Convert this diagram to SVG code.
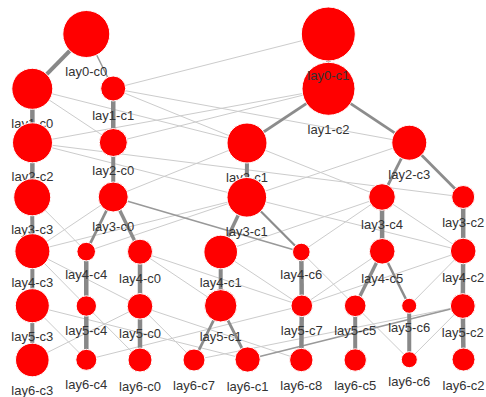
<svg xmlns="http://www.w3.org/2000/svg" width="486" height="397" viewBox="0 0 486 397">
<style>
.n circle{fill:#ff0000;stroke:#ffffff;stroke-width:1}
.n text{font-family:"Liberation Sans",Arial,sans-serif;font-size:13px;fill:#333;text-anchor:middle}
.t{stroke:#cccccc;stroke-width:1;fill:none}
.d{stroke:#999999;stroke-width:1.5;fill:none}
.m{stroke:#8c8c8c;stroke-width:2.8;fill:none}
.k{stroke:#888888;stroke-width:4.5;fill:none}
</style>
<rect width="486" height="397" fill="#ffffff"/>
<g id="connectors">
<!-- thin light -->
<line class="t" x1="113.2" y1="88.5" x2="328.3" y2="34"/>
<line class="t" x1="32.3" y1="88.8" x2="113.3" y2="142.5"/>
<line class="t" x1="32.3" y1="88.8" x2="247" y2="143"/>
<line class="t" x1="113.2" y1="88.5" x2="247" y2="143"/>
<line class="t" x1="113.2" y1="88.5" x2="409.3" y2="142.7"/>
<line class="t" x1="113.3" y1="142.5" x2="328.5" y2="88.8"/>
<line class="t" x1="32.5" y1="142.8" x2="328.5" y2="88.8"/>
<line class="t" x1="32.5" y1="142.8" x2="246.8" y2="197.3"/>
<line class="t" x1="32.5" y1="142.8" x2="463.2" y2="197"/>
<line class="t" x1="113.2" y1="197" x2="247" y2="143"/>
<line class="t" x1="246.8" y1="197.3" x2="409.3" y2="142.7"/>
<line class="t" x1="247" y1="143" x2="382" y2="197"/>
<line class="t" x1="32.2" y1="197.3" x2="86.2" y2="251.6"/>
<line class="t" x1="32.4" y1="251.2" x2="113.2" y2="197"/>
<line class="t" x1="32.4" y1="251.2" x2="246.8" y2="197.3"/>
<line class="t" x1="86.2" y1="251.6" x2="246.8" y2="197.3"/>
<line class="t" x1="246.8" y1="197.3" x2="463.2" y2="251"/>
<line class="t" x1="382" y1="197" x2="220.7" y2="252"/>
<line class="t" x1="382" y1="197" x2="301.3" y2="252"/>
<line class="t" x1="382" y1="197" x2="463.2" y2="251"/>
<line class="t" x1="32.4" y1="251.2" x2="86.3" y2="306"/>
<line class="t" x1="32.4" y1="251.2" x2="140" y2="306.3"/>
<line class="t" x1="140" y1="251.7" x2="301.8" y2="305.8"/>
<line class="t" x1="140" y1="251.7" x2="220.7" y2="305.8"/>
<line class="t" x1="220.7" y1="252" x2="301.8" y2="305.8"/>
<line class="t" x1="301.3" y1="252" x2="355.2" y2="305.8"/>
<line class="t" x1="301.8" y1="305.8" x2="382.2" y2="251.3"/>
<line class="t" x1="463.2" y1="251" x2="409.2" y2="305.8"/>
<line class="t" x1="301.8" y1="305.8" x2="463.2" y2="251"/>
<line class="t" x1="32.3" y1="305.7" x2="247.6" y2="359.5"/>
<line class="t" x1="32.3" y1="305.7" x2="86.3" y2="359.8"/>
<line class="t" x1="86.3" y1="306" x2="140" y2="360"/>
<line class="t" x1="140" y1="306.3" x2="301.3" y2="360"/>
<line class="t" x1="32.3" y1="360" x2="140" y2="306.3"/>
<line class="t" x1="86.3" y1="359.8" x2="301.8" y2="305.8"/>
<line class="t" x1="140" y1="306.3" x2="194" y2="360"/>
<line class="t" x1="462.8" y1="306" x2="194" y2="360"/>
<line class="t" x1="355.2" y1="305.8" x2="409.3" y2="359.7"/>
<line class="t" x1="462.8" y1="306" x2="409.3" y2="359.7"/>
<!-- thin dark -->
<line class="d" x1="86.3" y1="34" x2="113.2" y2="88.5"/>
<line class="d" x1="113.2" y1="197" x2="301.3" y2="252"/>
<line class="d" x1="247.6" y1="359.5" x2="462.8" y2="306"/>
<!-- medium -->
<line class="m" x1="328.5" y1="88.8" x2="247" y2="143"/>
<line class="m" x1="328.5" y1="88.8" x2="409.3" y2="142.7"/>
<line class="m" x1="409.3" y1="142.7" x2="382" y2="197"/>
<line class="m" x1="409.3" y1="142.7" x2="463.2" y2="197"/>
<line class="m" x1="113.2" y1="197" x2="86.2" y2="251.6"/>
<line class="m" x1="113.2" y1="197" x2="140" y2="251.7" style="stroke-width:3.5"/>
<line class="m" x1="246.8" y1="197.3" x2="220.7" y2="252" style="stroke-width:3.5"/>
<line class="m" x1="246.8" y1="197.3" x2="301.3" y2="252" style="stroke-width:2.2"/>
<line class="m" x1="382.2" y1="251.3" x2="355.2" y2="305.8" style="stroke-width:3.5"/>
<line class="m" x1="382.2" y1="251.3" x2="409.2" y2="305.8" style="stroke-width:2.5"/>
<line class="m" x1="220.7" y1="305.8" x2="194" y2="360"/>
<line class="m" x1="220.7" y1="305.8" x2="247.6" y2="359.5"/>
<!-- thick -->
<line class="k" x1="86.3" y1="34" x2="32.3" y2="88.8" style="stroke-width:4"/>
<line class="k" x1="328.3" y1="34" x2="328.5" y2="88.8"/>
<line class="k" x1="32.3" y1="88.8" x2="32.5" y2="142.8"/>
<line class="k" x1="113.2" y1="88.5" x2="113.3" y2="142.5"/>
<line class="k" x1="32.5" y1="142.8" x2="32.2" y2="197.3"/>
<line class="k" x1="113.3" y1="142.5" x2="113.2" y2="197" style="stroke-width:4"/>
<line class="k" x1="247" y1="143" x2="246.8" y2="197.3" style="stroke-width:4"/>
<line class="k" x1="32.2" y1="197.3" x2="32.4" y2="251.2" style="stroke-width:4"/>
<line class="k" x1="382" y1="197" x2="382.2" y2="251.3"/>
<line class="k" x1="463.2" y1="197" x2="463.2" y2="251"/>
<line class="k" x1="32.4" y1="251.2" x2="32.3" y2="305.7" style="stroke-width:4"/>
<line class="k" x1="86.2" y1="251.6" x2="86.3" y2="306"/>
<line class="k" x1="140" y1="251.7" x2="140" y2="306.3"/>
<line class="k" x1="220.7" y1="252" x2="220.7" y2="305.8" style="stroke-width:4"/>
<line class="k" x1="301.3" y1="252" x2="301.8" y2="305.8"/>
<line class="k" x1="463.2" y1="251" x2="462.8" y2="306"/>
<line class="k" x1="32.3" y1="305.7" x2="32.3" y2="360" style="stroke-width:4"/>
<line class="k" x1="86.3" y1="306" x2="86.3" y2="359.8"/>
<line class="k" x1="140" y1="306.3" x2="140" y2="360"/>
<line class="k" x1="301.8" y1="305.8" x2="301.3" y2="360"/>
<line class="k" x1="355.2" y1="305.8" x2="355.2" y2="360" style="stroke-width:4"/>
<line class="k" x1="409.2" y1="305.8" x2="409.3" y2="359.7" style="stroke-width:4"/>
<line class="k" x1="462.8" y1="306" x2="463.5" y2="359.5"/>
</g>
<g id="lay0-c0" class="n"><circle cx="86.3" cy="34" r="23.5"/><text x="86.3" y="76">lay0-c0</text></g>
<g id="lay1-c0" class="n"><circle cx="32.3" cy="88.8" r="20.5"/><text x="32.3" y="127.8">lay1-c0</text></g>
<g id="lay1-c1" class="n"><circle cx="113.2" cy="88.5" r="12.5"/><text x="113.2" y="119.5">lay1-c1</text></g>
<g id="lay1-c2" class="n"><circle cx="328.5" cy="88.8" r="26.5"/><text x="328.5" y="133.8">lay1-c2</text></g>
<g id="lay0-c1" class="n"><circle cx="328.3" cy="34" r="27"/><text x="328.3" y="79.5">lay0-c1</text></g>
<g id="lay2-c2" class="n"><circle cx="32.5" cy="142.8" r="20"/><text x="32.5" y="181.3">lay2-c2</text></g>
<g id="lay2-c0" class="n"><circle cx="113.3" cy="142.5" r="14"/><text x="113.3" y="175">lay2-c0</text></g>
<g id="lay2-c1" class="n"><circle cx="247" cy="143" r="20"/><text x="247" y="181.5">lay2-c1</text></g>
<g id="lay2-c3" class="n"><circle cx="409.3" cy="142.7" r="17.5"/><text x="409.3" y="178.7">lay2-c3</text></g>
<g id="lay3-c3" class="n"><circle cx="32.2" cy="197.3" r="18.5"/><text x="32.2" y="234.3">lay3-c3</text></g>
<g id="lay3-c0" class="n"><circle cx="113.2" cy="197" r="15"/><text x="113.2" y="230.5">lay3-c0</text></g>
<g id="lay3-c1" class="n"><circle cx="246.8" cy="197.3" r="19.8"/><text x="246.8" y="235.6">lay3-c1</text></g>
<g id="lay3-c4" class="n"><circle cx="382" cy="197" r="13.3"/><text x="382" y="228.8">lay3-c4</text></g>
<g id="lay3-c2" class="n"><circle cx="463.2" cy="197" r="11.5"/><text x="463.2" y="227">lay3-c2</text></g>
<g id="lay4-c3" class="n"><circle cx="32.4" cy="251.2" r="17.5"/><text x="32.4" y="287.2">lay4-c3</text></g>
<g id="lay4-c4" class="n"><circle cx="86.2" cy="251.6" r="9.3"/><text x="86.2" y="279.4">lay4-c4</text></g>
<g id="lay4-c0" class="n"><circle cx="140" cy="251.7" r="12.5"/><text x="140" y="282.7">lay4-c0</text></g>
<g id="lay4-c1" class="n"><circle cx="220.7" cy="252" r="16.8"/><text x="220.7" y="287.3">lay4-c1</text></g>
<g id="lay4-c6" class="n"><circle cx="301.3" cy="252" r="8.8"/><text x="301.3" y="279.3">lay4-c6</text></g>
<g id="lay4-c5" class="n"><circle cx="382.2" cy="251.3" r="12.8"/><text x="382.2" y="282.6">lay4-c5</text></g>
<g id="lay4-c2" class="n"><circle cx="463.2" cy="251" r="12.8"/><text x="463.2" y="282.3">lay4-c2</text></g>
<g id="lay5-c3" class="n"><circle cx="32.3" cy="305.7" r="17"/><text x="32.3" y="341.2">lay5-c3</text></g>
<g id="lay5-c4" class="n"><circle cx="86.3" cy="306" r="10.2"/><text x="86.3" y="334.7">lay5-c4</text></g>
<g id="lay5-c0" class="n"><circle cx="140" cy="306.3" r="12.8"/><text x="140" y="337.6">lay5-c0</text></g>
<g id="lay5-c1" class="n"><circle cx="220.7" cy="305.8" r="16.2"/><text x="220.7" y="340.5">lay5-c1</text></g>
<g id="lay5-c7" class="n"><circle cx="301.8" cy="305.8" r="10.8"/><text x="301.8" y="335.1">lay5-c7</text></g>
<g id="lay5-c5" class="n"><circle cx="355.2" cy="305.8" r="10.8"/><text x="355.2" y="335.1">lay5-c5</text></g>
<g id="lay5-c6" class="n"><circle cx="409.2" cy="305.8" r="7.5"/><text x="409.2" y="331.8">lay5-c6</text></g>
<g id="lay5-c2" class="n"><circle cx="462.8" cy="306" r="12.4"/><text x="462.8" y="336.9">lay5-c2</text></g>
<g id="lay6-c3" class="n"><circle cx="32.3" cy="360" r="16.8"/><text x="32.3" y="395.3">lay6-c3</text></g>
<g id="lay6-c4" class="n"><circle cx="86.3" cy="359.8" r="10.5"/><text x="86.3" y="388.8">lay6-c4</text></g>
<g id="lay6-c0" class="n"><circle cx="140" cy="360" r="12"/><text x="140" y="390.5">lay6-c0</text></g>
<g id="lay6-c7" class="n"><circle cx="194" cy="360" r="11"/><text x="194" y="389.5">lay6-c7</text></g>
<g id="lay6-c1" class="n"><circle cx="247.6" cy="359.5" r="12.6"/><text x="247.6" y="390.6">lay6-c1</text></g>
<g id="lay6-c8" class="n"><circle cx="301.3" cy="360" r="11.7"/><text x="301.3" y="390.2">lay6-c8</text></g>
<g id="lay6-c5" class="n"><circle cx="355.2" cy="360" r="11.2"/><text x="355.2" y="389.7">lay6-c5</text></g>
<g id="lay6-c6" class="n"><circle cx="409.3" cy="359.7" r="8"/><text x="409.3" y="386.2">lay6-c6</text></g>
<g id="lay6-c2" class="n"><circle cx="463.5" cy="359.5" r="11.5"/><text x="463.5" y="389.5">lay6-c2</text></g>
</svg>
